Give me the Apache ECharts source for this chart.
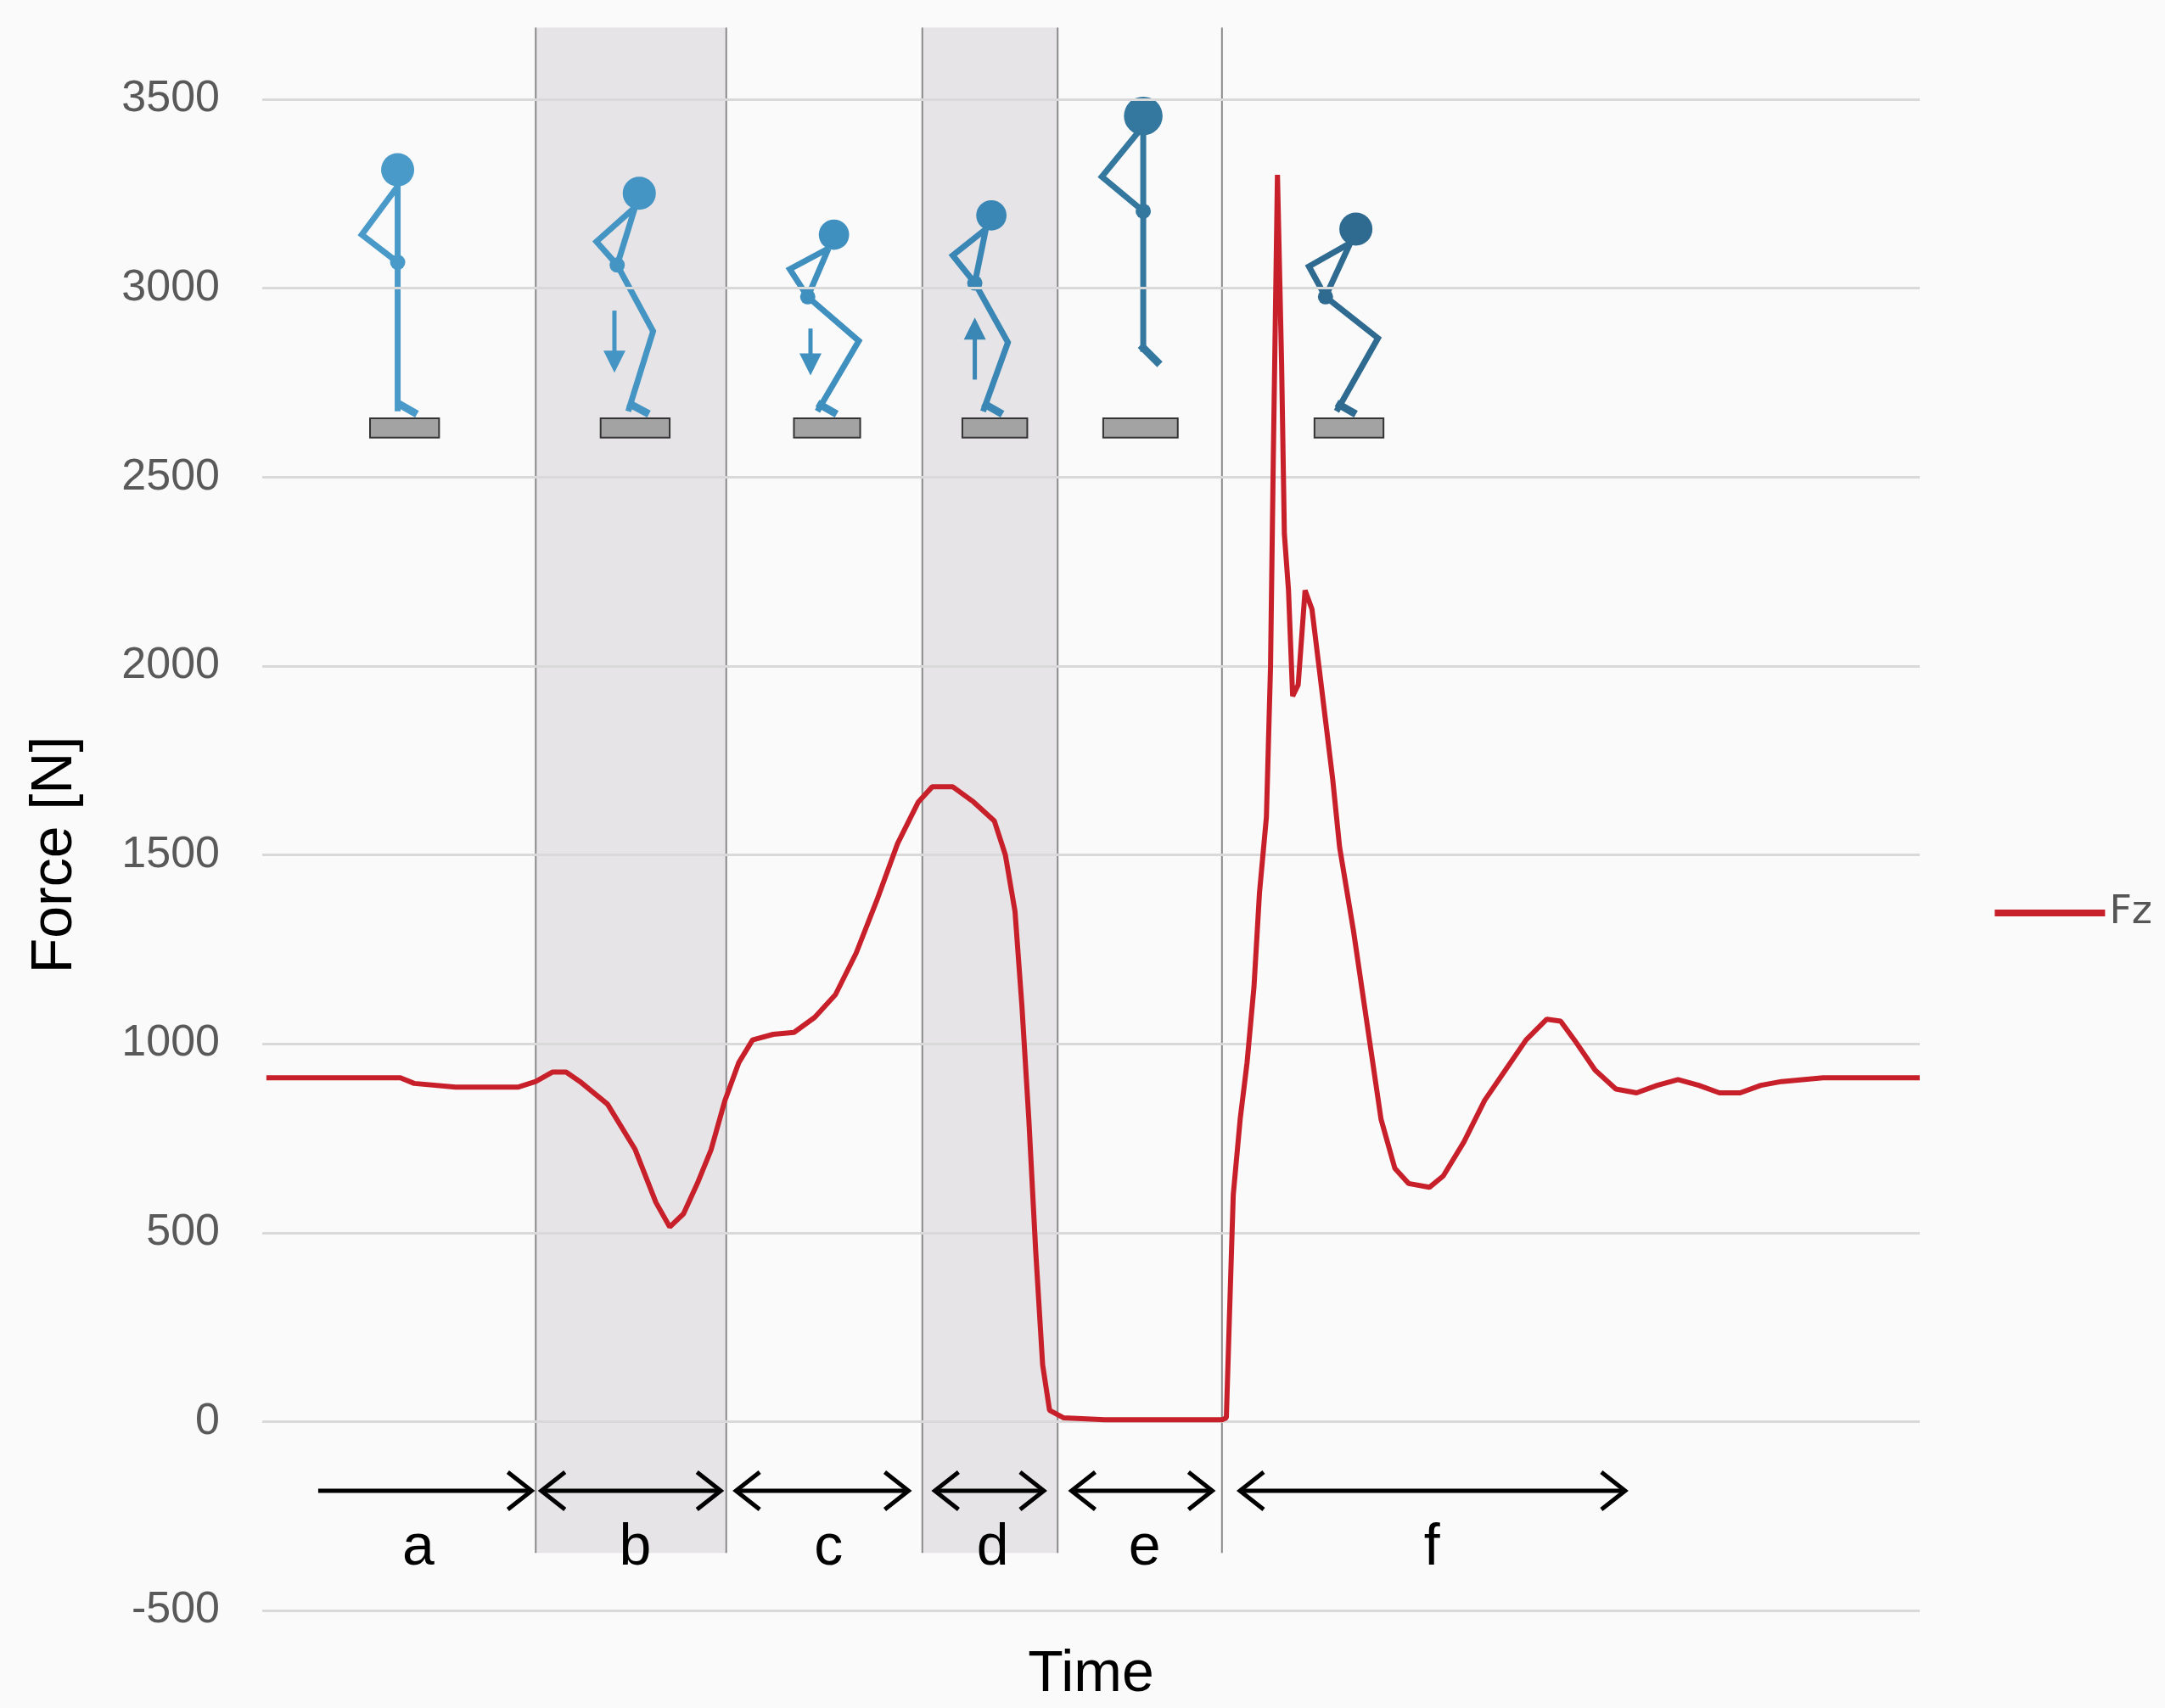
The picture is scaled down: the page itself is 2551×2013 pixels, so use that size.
<!DOCTYPE html>
<html><head><meta charset="utf-8">
<script src="https://cdn.jsdelivr.net/npm/echarts@6/dist/echarts.min.js"></script>
<style>html,body{margin:0;padding:0;background:#fafafa}#c{width:2551px;height:2013px}</style>
</head><body><div id="c"></div>
<script>
const times = [3,100,110,140,185,198,210,220,230,250,270,285,295,305,315,325,335,345,355,370,385,400,415,430,445,460,475,485,500,515,530,538,545,550,555,560,565,570,580,610,695,698,700,703,708,713,718,722,727,730,732,735,738,740,743,746,750,755,760,765,770,775,780,790,800,810,820,830,845,855,870,885,900,915,930,940,950,965,980,995,1010,1025,1040,1055,1070,1085,1100,1130,1200];
const fz = [910,910,895,885,885,900,925,925,900,840,720,580,515,550,630,720,850,950,1010,1025,1030,1070,1130,1240,1380,1530,1640,1680,1680,1640,1590,1500,1350,1100,800,450,150,30,10,5,5,10,250,600,800,950,1150,1400,1600,2000,2550,3300,2800,2350,2200,1920,1950,2200,2150,2000,1850,1700,1520,1300,1050,800,670,630,620,650,740,850,930,1010,1065,1060,1010,930,880,870,890,905,890,870,870,890,900,910,910];
const yTicks = [-500,0,500,1000,1500,2000,2500,3000,3500];
const phases = ['a','b','c','d','e','f'];
const S = 2551/1568;
const chart = echarts.init(document.getElementById('c'));
const p = v=>v*S;
const g = [];
[[388,526],[668,766]].forEach(r=>g.push({type:'rect',z:-1,shape:{x:p(r[0]),y:p(20),width:p(r[1]-r[0]),height:p(1105)},style:{fill:'#e6e4e6'}}));
[388,526,668,766,885].forEach(x=>g.push({type:'line',shape:{x1:p(x),y1:p(20),x2:p(x),y2:p(1125)},style:{stroke:'#8a8a8a',lineWidth:2}}));
const arr=[[228,385,false],[392,522,true],[533,658,true],[677,756,true],[776,878,true],[898,1177,true]];
const labX=[303,460,600,719,829,1037];
arr.forEach((a,i)=>{
  const y=p(1080);
  g.push({type:'line',shape:{x1:p(a[0])+4,y1:y,x2:p(a[1])-4,y2:y},style:{stroke:'#000',lineWidth:5}});
  const head=(x,d)=>g.push({type:'polyline',shape:{points:[[x-d*28,y-22],[x,y],[x-d*28,y+22]]},style:{stroke:'#000',lineWidth:5,fill:null}});
  head(p(a[1]),1); if(a[2]) head(p(a[0]),-1);
  g.push({type:'text',style:{text:phases[i],x:p(labX[i]),y:p(1122),fill:'#000',font:'68px Liberation Sans, Arial',align:'center',verticalAlign:'middle'}});
});
const figs=[
 {c:'#4a9ac9',h:[288,123,12],pts:[[288,123],[288,190],[288,298]],arm:[[288,135],[262,170],[288,190]],foot:[[288,292],[302,300]],pl:[268,50],ar:null},
 {c:'#4494c4',h:[463,140,12],pts:[[460,150],[447,192],[473,240],[455,298]],arm:[[460,150],[432,175],[447,192]],foot:[[455,292],[470,300]],pl:[435,50],ar:[445,225,270]},
 {c:'#3f8fbf',h:[604,170,11],pts:[[600,180],[585,215],[622,247],[592,298]],arm:[[600,180],[572,195],[585,215]],foot:[[592,292],[606,300]],pl:[575,48],ar:[587,238,272]},
 {c:'#3a86b5',h:[718,156,11],pts:[[714,166],[706,205],[730,248],[712,298]],arm:[[714,166],[690,185],[706,205]],foot:[[712,292],[726,300]],pl:[697,47],ar:[706,275,230]},
 {c:'#34789f',h:[828,84,14],pts:[[828,95],[828,153],[828,255]],arm:[[825,95],[798,128],[828,153]],foot:[[826,250],[840,264]],pl:[799,54],ar:null},
 {c:'#2f6b90',h:[982,166,12],pts:[[978,176],[960,215],[998,245],[968,298]],arm:[[978,176],[948,193],[960,215]],foot:[[968,292],[982,300]],pl:[952,50],ar:null}
];
const P=pts=>pts.map(q=>[p(q[0]),p(q[1])]);
figs.forEach(f=>{
  g.push({type:'polyline',shape:{points:P(f.pts)},style:{stroke:f.c,lineWidth:7,fill:null}});
  g.push({type:'polyline',shape:{points:P(f.arm)},style:{stroke:f.c,lineWidth:7,fill:null}});
  g.push({type:'polyline',shape:{points:P(f.foot)},style:{stroke:f.c,lineWidth:9,fill:null}});
  g.push({type:'circle',shape:{cx:p(f.h[0]),cy:p(f.h[1]),r:p(f.h[2])},style:{fill:f.c}});
  g.push({type:'circle',shape:{cx:p(f.arm[2][0]),cy:p(f.arm[2][1]),r:9},style:{fill:f.c}});
  g.push({type:'rect',shape:{x:p(f.pl[0]),y:p(303),width:p(f.pl[1]),height:p(14)},style:{fill:'#a3a3a3',stroke:'#333',lineWidth:2}});
  if(f.ar){const x=p(f.ar[0]),y1=p(f.ar[1]),y2=p(f.ar[2]),d=y2>y1?1:-1;
    g.push({type:'line',shape:{x1:x,y1:y1,x2:x,y2:y2-d*20},style:{stroke:f.c,lineWidth:5}});
    g.push({type:'polygon',shape:{points:[[x-13,y2-d*26],[x+13,y2-d*26],[x,y2]]},style:{fill:f.c}});}
});
chart.setOption({
  backgroundColor:'#fafafa',
  animation:false,
  grid:{left:309,right:289,top:117,bottom:78},
  legend:{right:10,top:1048,itemWidth:130,itemHeight:8,itemGap:10,icon:'rect',textStyle:{fontSize:46,color:'#555',fontFamily:'DejaVu Sans'},data:['Fz']},
  xAxis:{type:'value',min:0,max:1200,name:'Time',nameLocation:'middle',nameGap:42,nameTextStyle:{fontSize:68,color:'#000',fontFamily:'Liberation Sans'},axisLine:{show:false},axisTick:{show:false},axisLabel:{show:false},splitLine:{show:false}},
  yAxis:{type:'value',min:-500,max:3500,interval:500,name:'Force [N]',nameLocation:'middle',nameGap:210,nameTextStyle:{fontSize:68,color:'#000',fontFamily:'Liberation Sans'},axisLine:{show:false},axisTick:{show:false},
    axisLabel:{fontSize:52,color:'#595959',margin:50,fontFamily:'Liberation Sans',formatter:v=>yTicks.includes(v)?String(v):''},splitLine:{lineStyle:{color:'#d9d9d9',width:3}}},
  series:[{name:'Fz',type:'line',showSymbol:false,data:times.map((t,i)=>[t,fz[i]]),lineStyle:{color:'#c8202a',width:6},itemStyle:{color:'#c8202a'},z:3}],
  graphic:g
});
</script></body></html>
